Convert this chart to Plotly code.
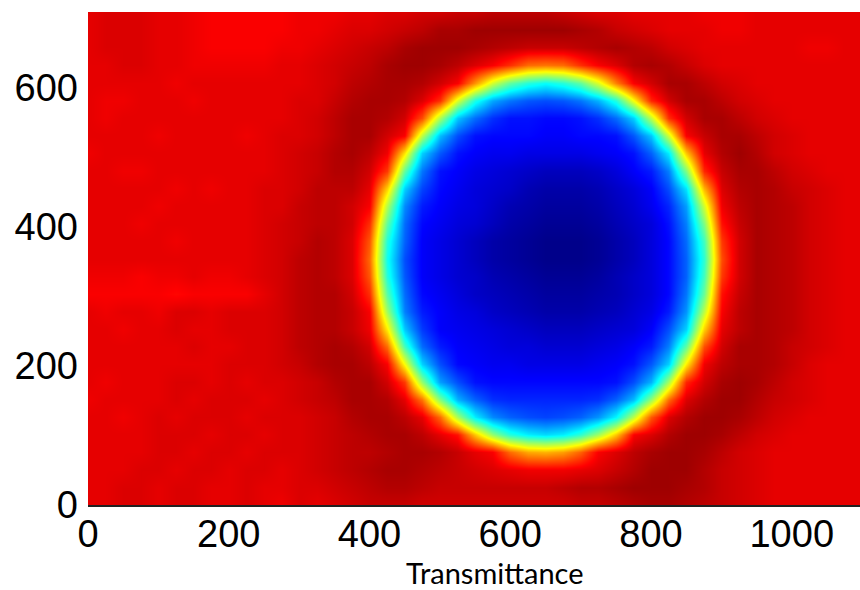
import plotly.graph_objects as go

# Values on a regular grid; one row per y step, bottom row first.
row_000 = [90,90,91,91,90, 91,91,90,90,91, 90,89,91,90,91, 92,93,93,93,92, 92,92,92,92,92, 92,92,92,93,93, 94,95,96,96,95, 94,93,92,91,90, 90,90,90,90,90]
row_025 = [90,90,91,91,90, 91,91,90,90,91, 90,90,91,91,92, 93,94,95,95,94, 93,93,93,93,93, 93,93,94,95,95, 96,97,97,97,96, 95,93,92,91,90, 90,90,90,90,90]
row_050 = [90,90,90,91,91, 90,91,91,90,91, 91,90,91,92,93, 94,95,96,96,95, 94,93,92,91,90, 89,89,89,90,91, 93,95,97,97,97, 95,93,92,91,90, 90,90,90,90,90]
row_075 = [90,90,90,90,91, 91,90,91,91,90, 91,91,91,92,93, 94,94,95,96,96, 95,93,90,88,77, 71,70,72,78,88, 91,94,96,97,97, 96,94,92,91,90, 90,90,90,90,90]
row_100 = [90,90,90,90,91, 91,91,90,91,91, 90,91,91,92,93, 94,95,96,96,94, 90,86,68,52,41, 36,34,36,42,53, 68,88,91,95,97, 97,96,94,92,91, 90,90,90,90,90]
row_125 = [90,90,89,90,91, 90,91,91,91,90, 91,91,91,92,93, 95,96,96,94,90, 77,54,36,26,22, 20,19,20,22,27, 37,56,79,91,95, 97,97,96,94,92, 91,90,90,90,90]
row_150 = [89,90,90,90,90, 91,90,91,91,91, 90,91,92,93,94, 96,96,95,90,76, 50,30,22,17,16, 16,16,16,16,17, 22,31,52,77,91, 95,97,97,95,93, 92,91,90,90,90]
row_175 = [90,89,90,90,90, 91,91,90,91,90, 91,91,92,93,95, 96,96,92,82,52, 28,20,14,13,13, 13,13,13,13,13, 14,20,30,54,84, 92,96,97,96,94, 92,91,90,90,90]
row_200 = [90,90,90,90,90, 90,90,90,91,91, 91,92,93,95,96, 96,94,88,62,33, 20,13,12,11,11, 10,10,10,10,11, 12,14,21,33,64, 89,94,96,96,95, 93,91,90,90,90]
row_225 = [90,90,90,90,90, 90,91,90,90,91, 91,92,94,95,96, 95,92,77,44,23, 15,12,11,10,9, 9,8,8,8,9, 10,12,15,25,47, 80,92,96,96,95, 93,92,91,90,90]
row_250 = [90,90,89,90,90, 91,90,90,91,91, 91,92,94,95,95, 93,89,64,32,18, 12,11,10,9,8, 7,6,6,6,7, 8,9,12,20,33, 67,90,94,96,95, 94,92,91,90,90]
row_275 = [90,89,90,90,89, 91,91,90,91,91, 91,92,94,95,95, 93,88,53,25,15, 12,10,9,7,6, 5,4,4,4,5, 6,8,10,15,27, 56,88,94,96,95, 94,92,91,90,90]
row_300 = [88,88,88,88,88, 87,88,88,88,88, 90,92,94,95,95, 92,83,46,23,13, 11,9,7,6,5, 4,3,3,3,4, 5,7,9,13,24, 48,86,93,96,95, 94,92,91,90,90]
row_325 = [89,89,89,88,89, 89,90,89,89,90, 91,92,94,95,94, 91,79,41,21,12, 10,8,7,5,4, 3,2,2,2,3, 5,7,9,13,22, 44,82,92,96,95, 94,92,91,90,90]
row_350 = [90,90,90,90,90, 90,90,90,90,90, 91,92,94,95,94, 91,77,39,20,12, 10,8,6,4,3, 2,1,1,1,2, 4,6,9,13,22, 42,80,92,96,95, 94,92,91,90,90]
row_375 = [90,90,90,90,90, 89,90,90,90,90, 91,92,93,95,94, 91,79,41,22,12, 10,8,6,4,3, 2,1,1,1,2, 4,6,9,13,23, 44,82,92,96,95, 94,92,91,90,90]
row_400 = [90,90,90,89,90, 90,90,90,90,90, 91,92,93,94,94, 92,83,47,23,13, 11,9,8,6,4, 3,2,2,2,3, 5,7,9,14,25, 50,86,93,96,95, 94,92,91,90,90]
row_425 = [90,90,90,90,89, 90,90,90,90,90, 91,91,93,94,94, 92,88,55,26,15, 12,10,9,7,5, 4,3,3,3,4, 6,8,11,16,28, 58,89,94,96,95, 94,92,91,90,90]
row_450 = [90,90,90,90,90, 89,90,89,90,90, 91,91,92,94,94, 94,90,67,33,19, 13,11,9,8,7, 5,4,4,4,5, 7,9,12,20,35, 70,91,95,96,95, 93,92,91,90,90]
row_475 = [90,90,89,89,90, 90,90,90,90,90, 90,91,92,93,95, 95,92,82,47,24, 14,12,10,9,8, 7,6,6,6,7, 9,12,15,25,50, 84,93,96,96,94, 92,91,90,90,90]
row_500 = [89,90,90,90,90, 90,90,90,90,90, 90,91,92,93,95, 96,94,89,65,33, 21,14,12,11,11, 10,10,10,10,11, 12,14,22,36,68, 90,95,97,95,92, 91,90,90,90,90]
row_525 = [90,90,90,90,89, 90,90,90,90,89, 90,91,91,92,94, 96,96,92,88,56, 31,20,14,13,13, 13,12,12,13,13, 14,21,32,58,88, 93,96,96,94,92, 91,90,90,90,90]
row_550 = [90,89,90,90,90, 90,90,90,90,90, 90,90,91,92,94, 96,96,95,92,80, 54,32,23,17,14, 14,13,13,14,17, 23,33,56,83,92, 96,96,94,92,91, 90,90,90,90,90]
row_575 = [90,89,89,90,90, 90,89,90,90,90, 90,90,91,91,93, 95,96,96,95,91, 83,59,40,29,24, 21,20,21,24,30, 41,62,84,92,96, 96,94,92,91,90, 90,90,90,90,90]
row_600 = [90,90,90,90,90, 89,90,90,90,90, 90,90,90,91,92, 94,95,96,96,95, 92,88,73,58,47, 41,38,41,47,59, 75,88,92,96,96, 94,92,91,90,90, 90,90,90,90,90]
row_625 = [90,90,91,91,90, 90,89,89,89,89, 89,90,90,91,92, 93,94,96,97,97, 96,94,91,88,83, 77,76,77,83,88, 91,95,96,95,93, 91,90,90,90,90, 90,90,90,90,90]
row_650 = [90,91,91,91,90, 90,89,88,88,88, 88,89,89,90,91, 92,93,94,96,97, 97,97,96,95,94, 93,93,93,94,95, 96,95,94,92,91, 90,90,90,90,90, 90,89,89,90,90]
row_675 = [90,91,91,91,90, 90,89,88,88,88, 88,88,89,89,90, 91,91,92,93,94, 96,96,97,97,97, 97,97,97,96,95, 93,92,91,90,90, 90,89,89,90,90, 90,90,90,90,90]
row_700 = [90,91,91,91,90, 90,89,88,88,88, 88,88,89,89,89, 90,90,91,91,92, 92,93,93,94,94, 94,94,93,92,91, 91,90,90,90,90, 89,89,89,90,90, 90,90,90,90,90]

z_rows = [row_000,row_025,row_050,row_075,row_100,row_125,row_150,row_175,row_200,row_225,
          row_250,row_275,row_300,row_325,row_350,row_375,row_400,row_425,row_450,row_475,
          row_500,row_525,row_550,row_575,row_600,row_625,row_650,row_675,row_700]

x_ticks = [0, 200, 400, 600, 800, 1000]
y_ticks = [0, 200, 400, 600]
top_ticks = [300, 900, 1000]
x_label = "Transmittance"

jet = [[0, "rgb(0,0,128)"], [0.125, "rgb(0,0,255)"], [0.375, "rgb(0,255,255)"],
       [0.625, "rgb(255,255,0)"], [0.875, "rgb(255,0,0)"], [1, "rgb(128,0,0)"]]

fig = go.Figure(go.Heatmap(z=z_rows, x0=0, dx=25, y0=0, dy=25.3, zmin=0, zmax=100,
                           colorscale=jet, zsmooth="best", showscale=False, hoverinfo="skip"))

tick_font = dict(family="Liberation Sans, Arial, sans-serif", size=38, color="#000000")
fig.update_layout(
    width=860, height=590, autosize=False,
    margin=dict(l=88, r=0, t=12, b=85),
    paper_bgcolor="white", plot_bgcolor="white", showlegend=False,
    xaxis=dict(range=[0, 1097], tickvals=x_ticks, ticks="", showgrid=False, zeroline=False,
               tickfont=tick_font, showline=True, linecolor="#222222", linewidth=2,
               ticklabelstandoff=-6),
    yaxis=dict(range=[0, 709], tickvals=y_ticks, ticks="", showgrid=False, zeroline=False,
               tickfont=tick_font, ticklabelstandoff=9),
    xaxis2=dict(range=[0, 1097], overlaying="x", side="top", anchor="y", tickvals=top_ticks,
                ticks="inside", ticklen=3, tickcolor="white", tickwidth=1,
                showticklabels=False, showgrid=False, zeroline=False),
    annotations=[dict(text=x_label, xref="paper", yref="paper", x=0.527, y=-0.137,
                      showarrow=False, xanchor="center", yanchor="middle",
                      font=dict(family="Lato, sans-serif", size=29, color="#000000"))],
)
fig.write_html("out.html", config={"displayModeBar": False},
               post_script="document.body.style.margin='0';document.documentElement.style.overflow='hidden';")
